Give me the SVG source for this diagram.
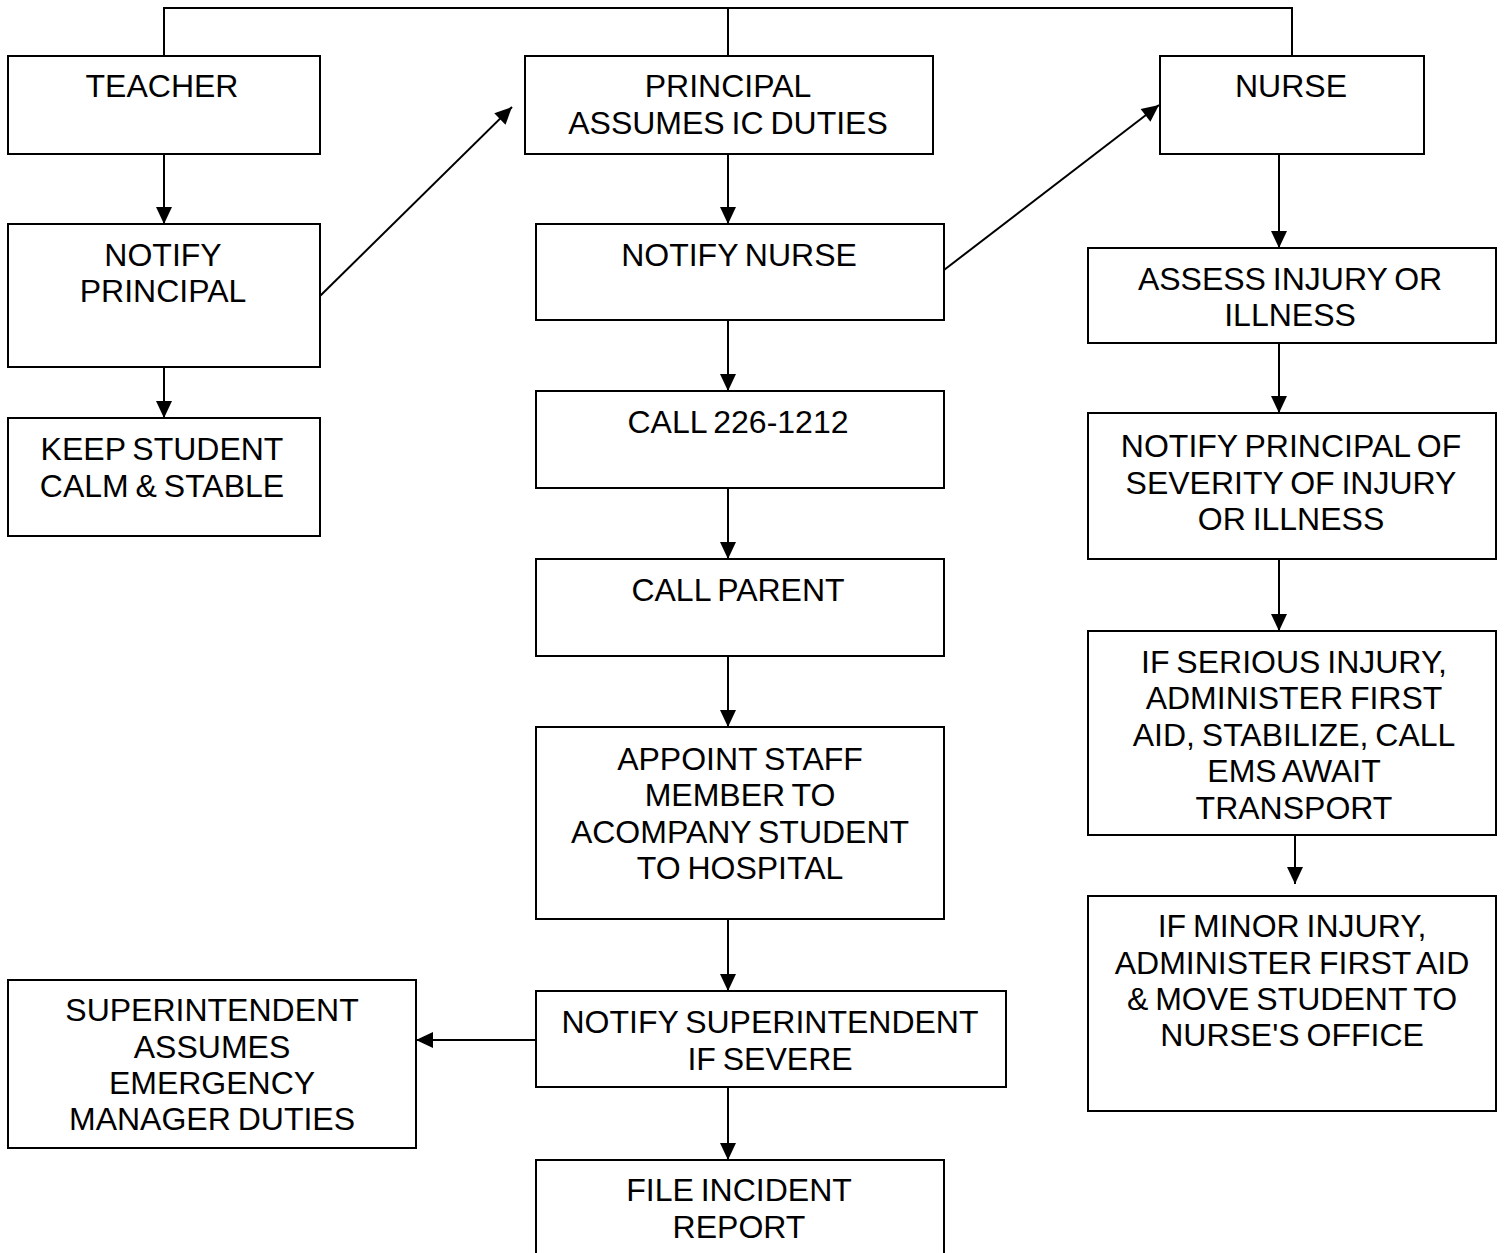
<svg xmlns="http://www.w3.org/2000/svg" width="1507" height="1253" viewBox="0 0 1507 1253">
  <style>
    .box { fill: #ffffff; stroke: #000000; stroke-width: 2; }
    .lbl { font-family: "Liberation Sans", Arial, sans-serif; font-size: 32px; fill: #000000; text-anchor: middle; word-spacing: -2px; }
    .link { fill: none; stroke: #000000; stroke-width: 2; }
    .arrow { marker-end: url(#head); }
  </style>
  <defs>
    <marker id="head" markerUnits="userSpaceOnUse" markerWidth="20" markerHeight="20" viewBox="0 0 20 20" refX="18" refY="10" orient="auto">
      <path d="M1,2 L18,10 L1,18 Z" fill="#000000"/>
    </marker>
  </defs>
  <rect width="1507" height="1253" fill="#ffffff"/>

  <g id="connectors">
    <!-- top bus linking the three role boxes -->
    <path class="link" d="M164,56 V8 H1292 V56 M728,8 V56"/>
    <!-- teacher column -->
    <path class="link arrow" d="M164,154 V224"/>
    <path class="link arrow" d="M164,367 V418"/>
    <path class="link arrow" d="M320,296 L512,107"/>
    <!-- principal column -->
    <path class="link arrow" d="M728,154 V224"/>
    <path class="link arrow" d="M728,320 V391"/>
    <path class="link arrow" d="M728,488 V559"/>
    <path class="link arrow" d="M728,656 V727"/>
    <path class="link arrow" d="M728,919 V991"/>
    <path class="link arrow" d="M728,1087 V1160"/>
    <path class="link arrow" d="M536,1040 H416"/>
    <path class="link arrow" d="M944,270 L1159,105"/>
    <!-- nurse column -->
    <path class="link arrow" d="M1279,154 V248"/>
    <path class="link arrow" d="M1279,343 V413"/>
    <path class="link arrow" d="M1279,559 V631"/>
    <path class="link arrow" d="M1295,835 V884"/>
  </g>

  <g id="teacher">
    <rect class="box" x="8" y="56" width="312" height="98"/>
    <text class="lbl" x="162" y="97">TEACHER</text>
  </g>
  <g id="notify-principal">
    <rect class="box" x="8" y="224" width="312" height="143"/>
    <text class="lbl" x="163" y="266">NOTIFY</text>
    <text class="lbl" x="163" y="302">PRINCIPAL</text>
  </g>
  <g id="keep-student-calm">
    <rect class="box" x="8" y="418" width="312" height="118"/>
    <text class="lbl" x="162" y="460">KEEP STUDENT</text>
    <text class="lbl" x="162" y="497">CALM &amp; STABLE</text>
  </g>

  <g id="principal">
    <rect class="box" x="525" y="56" width="408" height="98"/>
    <text class="lbl" x="728" y="97">PRINCIPAL</text>
    <text class="lbl" x="728" y="134">ASSUMES IC DUTIES</text>
  </g>
  <g id="notify-nurse">
    <rect class="box" x="536" y="224" width="408" height="96"/>
    <text class="lbl" x="739" y="266">NOTIFY NURSE</text>
  </g>
  <g id="call-number">
    <rect class="box" x="536" y="391" width="408" height="97"/>
    <text class="lbl" x="738" y="433">CALL 226-1212</text>
  </g>
  <g id="call-parent">
    <rect class="box" x="536" y="559" width="408" height="97"/>
    <text class="lbl" x="738" y="601">CALL PARENT</text>
  </g>
  <g id="appoint-staff">
    <rect class="box" x="536" y="727" width="408" height="192"/>
    <text class="lbl" x="740" y="770">APPOINT STAFF</text>
    <text class="lbl" x="740" y="806">MEMBER TO</text>
    <text class="lbl" x="740" y="843">ACOMPANY STUDENT</text>
    <text class="lbl" x="740" y="879">TO HOSPITAL</text>
  </g>
  <g id="notify-superintendent">
    <rect class="box" x="536" y="991" width="470" height="96"/>
    <text class="lbl" x="770" y="1033">NOTIFY SUPERINTENDENT</text>
    <text class="lbl" x="770" y="1070">IF SEVERE</text>
  </g>
  <g id="superintendent">
    <rect class="box" x="8" y="980" width="408" height="168"/>
    <text class="lbl" x="212" y="1021">SUPERINTENDENT</text>
    <text class="lbl" x="212" y="1058">ASSUMES</text>
    <text class="lbl" x="212" y="1094">EMERGENCY</text>
    <text class="lbl" x="212" y="1130">MANAGER DUTIES</text>
  </g>
  <g id="file-report">
    <rect class="box" x="536" y="1160" width="408" height="100"/>
    <text class="lbl" x="739" y="1201">FILE INCIDENT</text>
    <text class="lbl" x="739" y="1238">REPORT</text>
  </g>

  <g id="nurse">
    <rect class="box" x="1160" y="56" width="264" height="98"/>
    <text class="lbl" x="1291" y="97">NURSE</text>
  </g>
  <g id="assess">
    <rect class="box" x="1088" y="248" width="408" height="95"/>
    <text class="lbl" x="1290" y="290">ASSESS INJURY OR</text>
    <text class="lbl" x="1290" y="326">ILLNESS</text>
  </g>
  <g id="notify-severity">
    <rect class="box" x="1088" y="413" width="408" height="146"/>
    <text class="lbl" x="1291" y="457">NOTIFY PRINCIPAL OF</text>
    <text class="lbl" x="1291" y="494">SEVERITY OF INJURY</text>
    <text class="lbl" x="1291" y="530">OR ILLNESS</text>
  </g>
  <g id="serious-injury">
    <rect class="box" x="1088" y="631" width="408" height="204"/>
    <text class="lbl" x="1294" y="673">IF SERIOUS INJURY,</text>
    <text class="lbl" x="1294" y="709">ADMINISTER FIRST</text>
    <text class="lbl" x="1294" y="746">AID, STABILIZE, CALL</text>
    <text class="lbl" x="1294" y="782">EMS AWAIT</text>
    <text class="lbl" x="1294" y="819">TRANSPORT</text>
  </g>
  <g id="minor-injury">
    <rect class="box" x="1088" y="896" width="408" height="215"/>
    <text class="lbl" x="1292" y="937">IF MINOR INJURY,</text>
    <text class="lbl" x="1292" y="974">ADMINISTER FIRST AID</text>
    <text class="lbl" x="1292" y="1010">&amp; MOVE STUDENT TO</text>
    <text class="lbl" x="1292" y="1046">NURSE'S OFFICE</text>
  </g>
</svg>
